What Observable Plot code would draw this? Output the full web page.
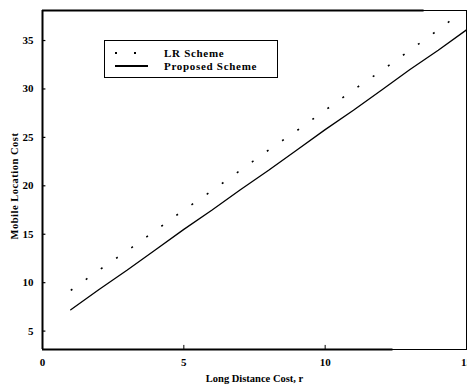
<!DOCTYPE html>
<html>
<head>
<meta charset="utf-8">
<script src="https://cdn.jsdelivr.net/npm/d3@7"></script>
<script src="https://cdn.jsdelivr.net/npm/@observablehq/plot@0.6"></script>
<style>
  body { margin: 0; background: #fff; }
  #wrap { position: relative; width: 467px; height: 388px; font-family: "Liberation Serif", "DejaVu Serif", serif; }
  #legend { position: absolute; left: 104px; top: 40px; width: 174px; height: 38px; border: 1.5px solid #000; background: #fff; box-sizing: border-box; }
  #legend .row { position: absolute; left: 0; width: 100%; height: 14px; font-size: 11px; font-weight: bold; line-height: 14px; letter-spacing: 0.7px; }
  #legend svg { position: absolute; left: 8px; top: 0; }
  #legend span { position: absolute; left: 59px; top: 0; white-space: nowrap; }
  #ylabel { position: absolute; left: 15px; top: 186px; transform: translate(-50%, -50%) rotate(-90deg); white-space: nowrap; font-size: 10.5px; font-weight: bold; letter-spacing: 0.5px; line-height: 12px; }
</style>
</head>
<body>
<div id="wrap"></div>
<script>
// Data
const costR = [1, 2, 3, 4, 5, 6, 7, 8, 9, 10, 11, 12, 13, 14, 14.5];
const lrScheme = [9.2, 11.3, 13.3, 15.4, 17.5, 19.5, 21.6, 23.7, 25.7, 27.8, 29.9, 31.9, 34.0, 36.1, 37.2];
const costP = [1, 2, 3, 4, 5, 6, 7, 8, 9, 10, 11, 12, 13, 14, 15];
const proposed = [7.2, 9.3, 11.3, 13.4, 15.5, 17.5, 19.6, 21.6, 23.7, 25.8, 27.8, 29.9, 32.0, 34.0, 36.1];
const xTicks = [0, 5, 10, 15];
const yTicks = [5, 10, 15, 20, 25, 30, 35];
const seriesNames = ["LR Scheme", "Proposed Scheme"];
const xLabel = "Long Distance Cost, r";
const yLabel = "Mobile Location Cost";

const lrData = costR.map((x, i) => ({x, y: lrScheme[i]}));
const prData = costP.map((x, i) => ({x, y: proposed[i]}));
const yMin = 3.1, yMax = 38.1;

const chart = Plot.plot({
  width: 467,
  height: 388,
  marginLeft: 42,
  marginRight: 1,
  marginTop: 10,
  marginBottom: 39,
  style: {fontFamily: '"Liberation Serif", serif', fontSize: "11px", fontWeight: "bold", color: "#000", background: "#fff"},
  x: {domain: [0, 15], ticks: xTicks},
  y: {domain: [yMin, yMax], ticks: yTicks},
  marks: [
    Plot.frame({stroke: "#000", strokeWidth: 1}),
    Plot.ruleX([0], {stroke: "#000", strokeWidth: 2}),
    Plot.ruleY([yMin], {x1: 0, x2: 12.4, stroke: "#000", strokeWidth: 2}),
    Plot.ruleY([yMax], {x1: 0, x2: 13.5, stroke: "#000", strokeWidth: 2}),
    Plot.ruleX(xTicks, {x: d => d, y1: yMin, y2: yMin + 0.42, stroke: "#000", strokeWidth: 1}),
    Plot.ruleY(yTicks, {y: d => d, x1: 0, x2: 0.12, stroke: "#000", strokeWidth: 1.2}),
    Plot.axisX({ticks: xTicks, tickSize: 0, tickPadding: 9, label: null, fontSize: 11}),
    Plot.axisY({ticks: yTicks, tickSize: 0, tickPadding: 9, label: null, fontSize: 11}),
    Plot.text([xLabel], {frameAnchor: "bottom", dy: 32, fontSize: 10.5, fontWeight: "bold"}),
    Plot.line(lrData, {x: "x", y: "y", stroke: "#000", strokeWidth: 1.6, strokeDasharray: "2,16.5", strokeLinecap: "butt"}),
    Plot.line(prData, {x: "x", y: "y", stroke: "#000", strokeWidth: 1.3})
  ]
});

const wrap = document.getElementById("wrap");
wrap.appendChild(chart);

const yl = document.createElement("div");
yl.id = "ylabel";
yl.textContent = yLabel;
wrap.appendChild(yl);

const legend = document.createElement("div");
legend.id = "legend";
const rows = [
  {name: seriesNames[0], dash: "2,17", top: 5},
  {name: seriesNames[1], dash: null, top: 18}
];
for (const r of rows) {
  const row = document.createElement("div");
  row.className = "row";
  row.style.top = r.top + "px";
  row.innerHTML = `<svg width="40" height="14"><line x1="2" x2="${r.dash ? 31 : 35}" y1="7" y2="7" stroke="#000" stroke-width="${r.dash ? 2 : 1.8}" ${r.dash ? `stroke-dasharray="${r.dash}"` : ""}/></svg><span>${r.name}</span>`;
  legend.appendChild(row);
}
wrap.appendChild(legend);
</script>
</body>
</html>
